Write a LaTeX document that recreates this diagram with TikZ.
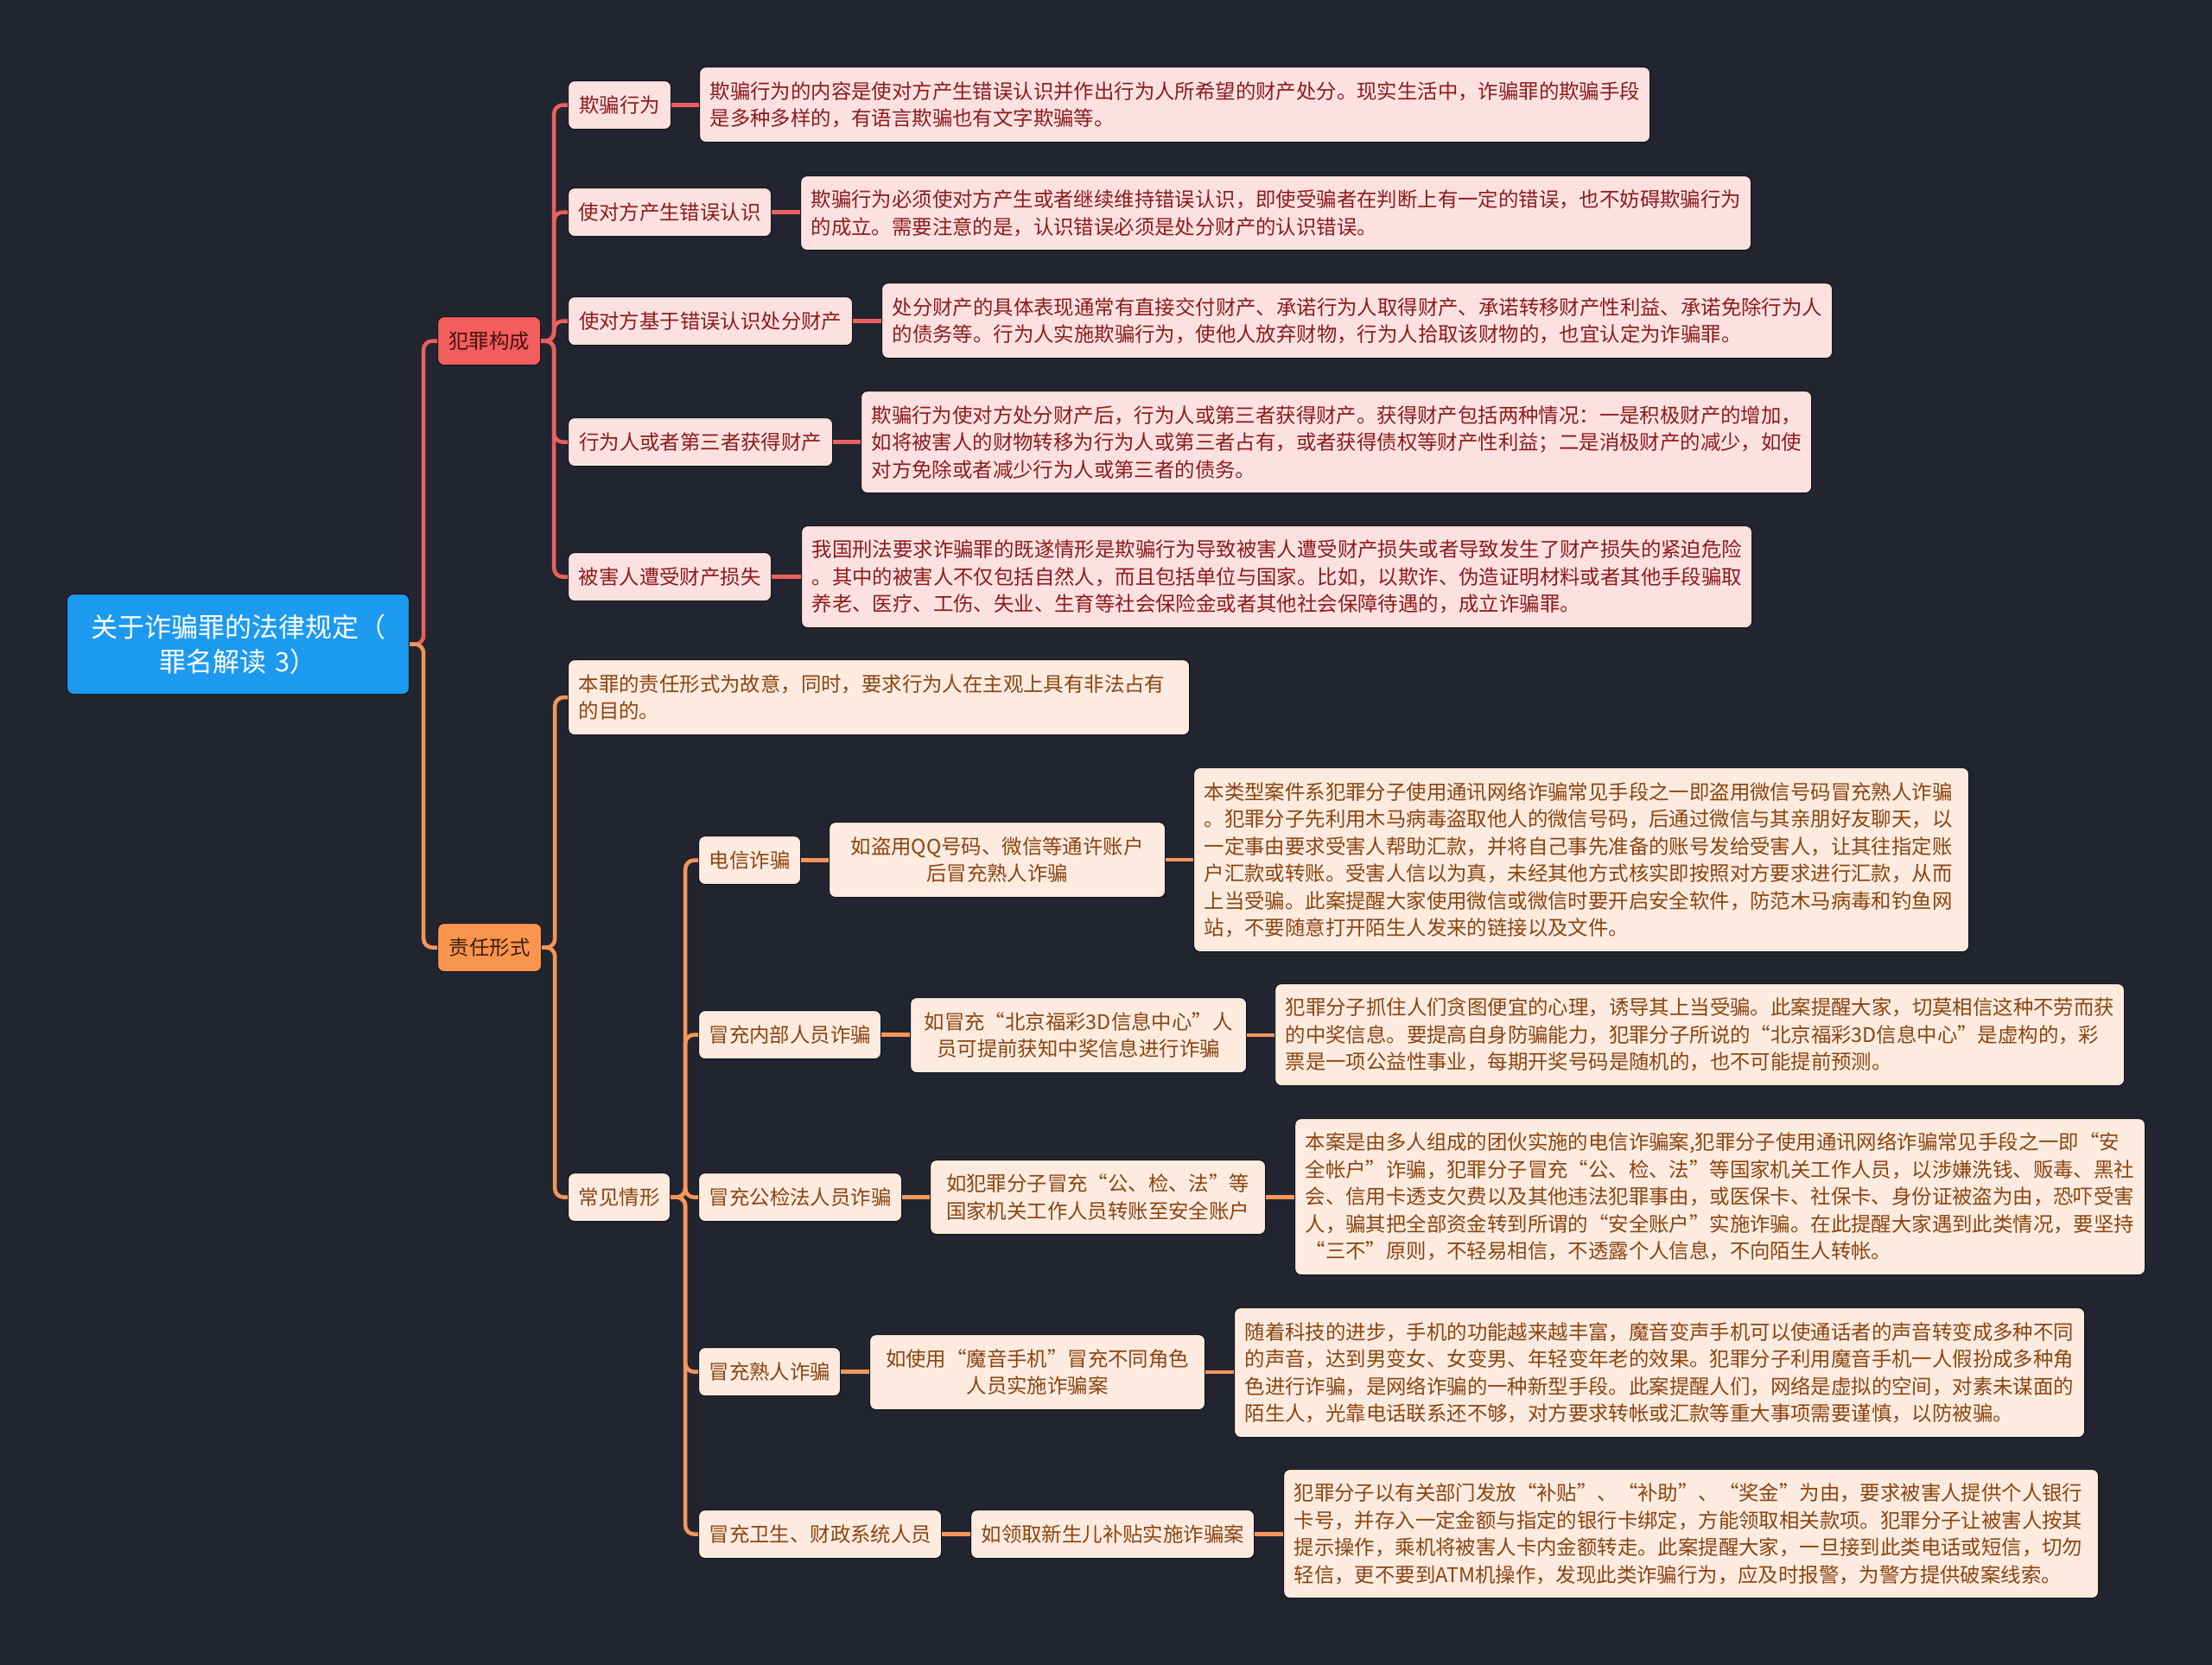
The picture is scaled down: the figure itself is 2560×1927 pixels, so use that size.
\documentclass[tikz,border=0pt]{standalone}
\usepackage{fontspec}
\setmainfont{Noto Sans CJK SC}
\definecolor{bg}{HTML}{22252F}
\definecolor{rootf}{HTML}{1C9AF0}
\definecolor{redf}{HTML}{F25E5E}
\definecolor{redt}{HTML}{4A0E0E}
\definecolor{redl}{HTML}{E9605F}
\definecolor{pinkf}{HTML}{FDE1E1}
\definecolor{pinkt}{HTML}{8C1C1C}
\definecolor{orf}{HTML}{FA9550}
\definecolor{ort}{HTML}{3C1E08}
\definecolor{orl}{HTML}{F4965A}
\definecolor{peachf}{HTML}{FDEBDF}
\definecolor{peacht}{HTML}{8A4512}
\definecolor{edge}{HTML}{14161C}
\tikzset{
  sz/.code 2 args={\pgfmathsetmacro\boxtw{#1-24}%
    \edef\boxtmp{\noexpand\tikzset{minimum width=#1pt,minimum height=#2pt,text width=\boxtw pt}}\boxtmp},
  base/.style={rounded corners=7pt, inner sep=0pt, anchor=north west, draw=edge, line width=1.2pt,
    font=\fontsize{23.4pt}{31.5pt}\selectfont},
  rootbox/.style={base, fill=rootf, text=white, align=center, font=\fontsize{31pt}{40pt}\selectfont},
  redmain/.style={base, fill=redf, text=redt, align=center},
  ormain/.style={base, fill=orf, text=ort, align=center},
  pk/.style={base, fill=pinkf, text=pinkt, align=center},
  pkl/.style={base, fill=pinkf, text=pinkt, align=left},
  pe/.style={base, fill=peachf, text=peacht, align=center},
  pel/.style={base, fill=peachf, text=peacht, align=left},
  redline/.style={draw=redl, line width=4.5pt, rounded corners=10pt},
  orline/.style={draw=orl, line width=4.5pt, rounded corners=10pt},
}
\begin{document}
\begin{tikzpicture}[x=1pt,y=-1pt]
\useasboundingbox[fill=bg] (0,0) rectangle (2560,1927);

% root and main branches
\node[rootbox, sz={396}{116}] (root) at (77,687) {关于诈骗罪的法律规定（\\罪名解读 3）};
\node[redmain, sz={119}{56}] (fz) at (506,366) {犯罪构成};
\node[ormain, sz={120}{56}] (zr) at (506,1068) {责任形式};

% red branch
\node[pk, sz={119}{56}] (L1) at (657,93) {欺骗行为};
\node[pk, sz={235}{56}] (L2) at (657,217) {使对方产生错误认识};
\node[pk, sz={329}{56}] (L3) at (657,343) {使对方基于错误认识处分财产};
\node[pk, sz={306}{56}] (L4) at (657,483) {行为人或者第三者获得财产};
\node[pk, sz={235}{56}] (L5) at (657,639) {被害人遭受财产损失};

\node[pkl, sz={1100}{87}] (D1) at (809,77) {欺骗行为的内容是使对方产生错误认识并作出行为人所希望的财产处分。现实生活中，诈骗罪的欺骗手段\\是多种多样的，有语言欺骗也有文字欺骗等。};
\node[pkl, sz={1100}{86}] (D2) at (926,203) {欺骗行为必须使对方产生或者继续维持错误认识，即使受骗者在判断上有一定的错误，也不妨碍欺骗行为\\的成立。需要注意的是，认识错误必须是处分财产的认识错误。};
\node[pkl, sz={1100}{87}] (D3) at (1020,327) {处分财产的具体表现通常有直接交付财产、承诺行为人取得财产、承诺转移财产性利益、承诺免除行为人\\的债务等。行为人实施欺骗行为，使他人放弃财物，行为人拾取该财物的，也宜认定为诈骗罪。};
\node[pkl, sz={1100}{118}] (D4) at (996,452) {欺骗行为使对方处分财产后，行为人或第三者获得财产。获得财产包括两种情况：一是积极财产的增加，\\如将被害人的财物转移为行为人或第三者占有，或者获得债权等财产性利益；二是消极财产的减少，如使\\对方免除或者减少行为人或第三者的债务。};
\node[pkl, sz={1100}{118}] (D5) at (927,608) {我国刑法要求诈骗罪的既遂情形是欺骗行为导致被害人遭受财产损失或者导致发生了财产损失的紧迫危险\\。其中的被害人不仅包括自然人，而且包括单位与国家。比如，以欺诈、伪造证明材料或者其他手段骗取\\养老、医疗、工伤、失业、生育等社会保险金或者其他社会保障待遇的，成立诈骗罪。};

% orange branch
\node[pel, sz={719}{87}] (O1) at (657,763) {本罪的责任形式为故意，同时，要求行为人在主观上具有非法占有\\的目的。};
\node[pe, sz={118}{56}] (O2) at (657,1357) {常见情形};

\node[pe, sz={118}{56}] (C1) at (808,967) {电信诈骗};
\node[pe, sz={389}{87}] (C1a) at (959,951) {如盗用QQ号码、微信等通许账户\\后冒充熟人诈骗};
\node[pel, sz={897}{213}] (C1b) at (1381,888) {本类型案件系犯罪分子使用通讯网络诈骗常见手段之一即盗用微信号码冒充熟人诈骗\\。犯罪分子先利用木马病毒盗取他人的微信号码，后通过微信与其亲朋好友聊天，以\\一定事由要求受害人帮助汇款，并将自己事先准备的账号发给受害人，让其往指定账\\户汇款或转账。受害人信以为真，未经其他方式核实即按照对方要求进行汇款，从而\\上当受骗。此案提醒大家使用微信或微信时要开启安全软件，防范木马病毒和钓鱼网\\站，不要随意打开陌生人发来的链接以及文件。};

\node[pe, sz={211}{56}] (C2) at (808,1169) {冒充内部人员诈骗};
\node[pe, sz={389}{87}] (C2a) at (1053,1154) {如冒充“北京福彩3D信息中心”人\\员可提前获知中奖信息进行诈骗};
\node[pel, sz={983}{118}] (C2b) at (1475,1138) {犯罪分子抓住人们贪图便宜的心理，诱导其上当受骗。此案提醒大家，切莫相信这种不劳而获\\的中奖信息。要提高自身防骗能力，犯罪分子所说的“北京福彩3D信息中心”是虚构的，彩\\票是一项公益性事业，每期开奖号码是随机的，也不可能提前预测。};

\node[pe, sz={235}{56}] (C3) at (808,1357) {冒充公检法人员诈骗};
\node[pe, sz={388}{86}] (C3a) at (1076,1342) {如犯罪分子冒充“公、检、法”等\\国家机关工作人员转账至安全账户};
\node[pel, sz={984}{181}] (C3b) at (1498,1294) {本案是由多人组成的团伙实施的电信诈骗案,犯罪分子使用通讯网络诈骗常见手段之一即“安\\全帐户”诈骗，犯罪分子冒充“公、检、法”等国家机关工作人员，以涉嫌洗钱、贩毒、黑社\\会、信用卡透支欠费以及其他违法犯罪事由，或医保卡、社保卡、身份证被盗为由，恐吓受害\\人，骗其把全部资金转到所谓的“安全账户”实施诈骗。在此提醒大家遇到此类情况，要坚持\\“三不”原则，不轻易相信，不透露个人信息，不向陌生人转帐。};

\node[pe, sz={164}{56}] (C4) at (808,1559) {冒充熟人诈骗};
\node[pe, sz={388}{87}] (C4a) at (1006,1544) {如使用“魔音手机”冒充不同角色\\人员实施诈骗案};
\node[pel, sz={984}{150}] (C4b) at (1428,1513) {随着科技的进步，手机的功能越来越丰富，魔音变声手机可以使通话者的声音转变成多种不同\\的声音，达到男变女、女变男、年轻变年老的效果。犯罪分子利用魔音手机一人假扮成多种角\\色进行诈骗，是网络诈骗的一种新型手段。此案提醒人们，网络是虚拟的空间，对素未谋面的\\陌生人，光靠电话联系还不够，对方要求转帐或汇款等重大事项需要谨慎，以防被骗。};

\node[pe, sz={281}{56}] (C5) at (808,1747) {冒充卫生、财政系统人员};
\node[pe, sz={328}{56}] (C5a) at (1123,1747) {如领取新生儿补贴实施诈骗案};
\node[pel, sz={943}{149}] (C5b) at (1485,1700) {犯罪分子以有关部门发放“补贴”、“补助”、“奖金”为由，要求被害人提供个人银行\\卡号，并存入一定金额与指定的银行卡绑定，方能领取相关款项。犯罪分子让被害人按其\\提示操作，乘机将被害人卡内金额转走。此案提醒大家，一旦接到此类电话或短信，切勿\\轻信，更不要到ATM机操作，发现此类诈骗行为，应及时报警，为警方提供破案线索。};

% connectors
\draw[redline] (root.east) -- ++(16,0) |- (fz.west);
\foreach \n in {L1,L2,L3,L4,L5} \draw[redline] (fz.east) -- ++(15,0) |- (\n.west);
\draw[redline] (L1.east) -- (L1.east -| D1.west);
\draw[redline] (L2.east) -- (L2.east -| D2.west);
\draw[redline] (L3.east) -- (L3.east -| D3.west);
\draw[redline] (L4.east) -- (L4.east -| D4.west);
\draw[redline] (L5.east) -- (L5.east -| D5.west);

\draw[orline] (root.east) -- ++(16,0) |- (zr.west);
\foreach \n in {O1,O2} \draw[orline] (zr.east) -- ++(15,0) |- (\n.west);
\foreach \n in {C1,C2,C3,C4,C5} \draw[orline] (O2.east) -- ++(17,0) |- (\n.west);
\foreach \a/\b in {C1/C1a,C1a/C1b,C2/C2a,C2a/C2b,C3/C3a,C3a/C3b,C4/C4a,C4a/C4b,C5/C5a,C5a/C5b}
  \draw[orline] (\a.east) -- (\a.east -| \b.west);
\end{tikzpicture}
\end{document}
